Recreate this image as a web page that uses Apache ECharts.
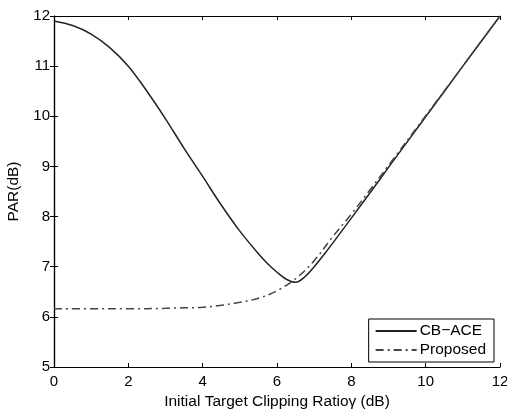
<!DOCTYPE html>
<html>
<head>
<meta charset="utf-8">
<script src="https://cdn.jsdelivr.net/npm/echarts@6/dist/echarts.min.js"></script>
<style>html,body{margin:0;padding:0;background:#fff;}#c{width:507px;height:410px;}</style>
</head>
<body>
<div id="c"></div>
<script>
var xTicks = [0, 2, 4, 6, 8, 10, 12];
var yTicks = [5, 6, 7, 8, 9, 10, 11, 12];
var cbX = [0, 0.5, 1, 1.5, 2, 2.5, 3, 3.5, 4, 4.5, 5, 5.5, 5.75, 6, 6.25, 6.5, 6.75, 7, 7.25, 7.5, 8, 8.5, 9, 10, 11, 12];
var cbY = [11.9, 11.81, 11.64, 11.37, 11.0, 10.5, 9.95, 9.36, 8.8, 8.23, 7.71, 7.26, 7.06, 6.89, 6.75, 6.69, 6.8, 7.0, 7.23, 7.47, 7.97, 8.47, 8.98, 9.99, 11.0, 12.0];
var prX = [0, 1, 2, 3, 3.5, 4, 4.5, 5, 5.5, 6, 6.5, 7, 7.5, 8, 8.5, 9, 10, 11, 12];
var prY = [6.16, 6.16, 6.16, 6.17, 6.18, 6.19, 6.23, 6.29, 6.37, 6.52, 6.76, 7.12, 7.6, 8.05, 8.53, 9.02, 10.01, 11.0, 12.0];
var seriesNames = ['CB\u2212ACE', 'Proposed'];

function pairs(xs, ys) { return xs.map(function (x, i) { return [x, ys[i]]; }); }

var font = 'Liberation Sans, Arial, sans-serif';
var chart = echarts.init(document.getElementById('c'), null, {renderer: 'canvas'});
var axisLine = {show: true, lineStyle: {color: '#000', width: 1.2}};
var tick = {show: true, inside: true, length: 4, lineStyle: {color: '#000'}};
chart.setOption({
  animation: false,
  backgroundColor: '#fff',
  grid: {left: 54, top: 16, right: 7, bottom: 43, containLabel: false, outerBoundsMode: 'none'},
  xAxis: [
    {type: 'value', min: xTicks[0], max: xTicks[xTicks.length - 1], interval: 2, position: 'bottom',
     axisLine: axisLine, axisTick: tick, splitLine: {show: false},
     axisLabel: {color: '#000', fontSize: 15, fontFamily: font, margin: 7},
     name: 'Initial Target Clipping Ratio\u03b3 (dB)', nameLocation: 'middle', nameGap: 26,
     nameTextStyle: {color: '#000', fontSize: 15.5, fontFamily: font}},
    {type: 'value', min: xTicks[0], max: xTicks[xTicks.length - 1], interval: 2, position: 'top',
     axisLine: axisLine, axisTick: tick, axisLabel: {show: false}, splitLine: {show: false}}
  ],
  yAxis: [
    {type: 'value', min: yTicks[0], max: yTicks[yTicks.length - 1], interval: 1, position: 'left',
     axisLine: axisLine, axisTick: tick, splitLine: {show: false},
     axisLabel: {color: '#000', fontSize: 15, fontFamily: font, margin: 4},
     name: 'PAR(dB)', nameLocation: 'middle', nameGap: 32, nameRotate: 90,
     nameTextStyle: {color: '#000', fontSize: 15.5, fontFamily: font}},
    {type: 'value', min: yTicks[0], max: yTicks[yTicks.length - 1], interval: 1, position: 'right',
     axisLine: axisLine, axisTick: tick, axisLabel: {show: false}, splitLine: {show: false}}
  ],
  legend: {
    right: 13, bottom: 48, orient: 'vertical', itemWidth: 41, itemHeight: 12, itemGap: 3,
    padding: [4, 8, 4, 6], borderColor: '#000', borderWidth: 1, backgroundColor: '#fff',
    itemStyle: {color: 'rgba(0,0,0,0)', borderWidth: 0},
    textStyle: {color: '#000', fontSize: 15.5, fontFamily: font, padding: [0, 0, 0, -2]},
    data: seriesNames
  },
  series: [
    {name: seriesNames[0], type: 'line', data: pairs(cbX, cbY), smooth: 0.35, symbol: 'none',
     lineStyle: {color: '#222', width: 1.5, type: 'solid'}, itemStyle: {color: '#222'}},
    {name: seriesNames[1], type: 'line', data: pairs(prX, prY), smooth: 0.35, symbol: 'none',
     lineStyle: {color: '#444', width: 1.5, type: [8, 4, 2, 4]}, itemStyle: {color: '#444'}}
  ]
});
</script>
</body>
</html>
